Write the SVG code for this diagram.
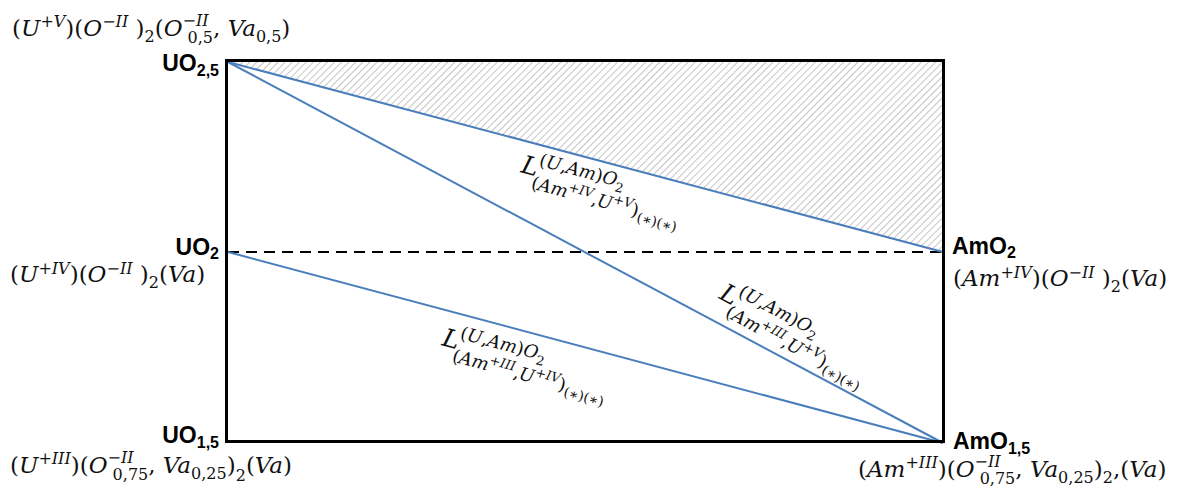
<svg xmlns="http://www.w3.org/2000/svg" width="1179" height="492" viewBox="0 0 1179 492">
<style>
.m{font-family:"DejaVu Serif","Liberation Serif",serif;font-size:23px;fill:#111}
.i{font-style:italic}
.s{font-size:16px}
.b{font-family:"Liberation Sans",Arial,sans-serif;font-weight:bold;font-size:23px;fill:#000}
.bs{font-size:16px}
.blue{stroke:#4a7ebb;stroke-width:2;fill:none}
.frame{stroke:#000;stroke-width:3;fill:none}
.dash{stroke:#000;stroke-width:2;stroke-dasharray:11 7;fill:none}
.Ls{font-family:"DejaVu Serif","Liberation Serif",serif;fill:#111}
</style>
<defs>
<pattern id="hatch" patternUnits="userSpaceOnUse" width="5" height="5" patternTransform="rotate(45)">
<line x1="0" y1="0" x2="0" y2="5" stroke="#8c8c8c" stroke-width="1"/>
</pattern>
</defs>
<rect width="1179" height="492" fill="#fff"/>
<g id="region">
<polygon points="228,62 943,62 943,252" fill="url(#hatch)"/>
</g>
<g id="connectors">
<line class="dash" x1="228" y1="252" x2="943" y2="252"/>
<line class="blue" x1="228" y1="62" x2="943" y2="252"/>
<line class="blue" x1="228" y1="62" x2="943" y2="443"/>
<line class="blue" x1="228" y1="252" x2="943" y2="443"/>
</g>
<g id="frame">
<rect class="frame" x="226.5" y="60.5" width="717" height="381"/>
</g>
<g id="UO25">
<text class="b" x="219" y="71" text-anchor="end">UO<tspan class="bs" dy="5">2,5</tspan></text>
<text class="m" x="12" y="36">(<tspan class="i">U</tspan><tspan class="s" dy="-9">+<tspan class="i">V</tspan></tspan><tspan dy="9">)(</tspan><tspan class="i">O</tspan><tspan class="s i" dy="-9">−II</tspan><tspan dy="9"> )</tspan><tspan class="s" dy="6">2</tspan><tspan dy="-6">(</tspan><tspan class="i">O</tspan><tspan class="s i" dy="-10">−II</tspan><tspan class="s" dx="-21" dy="17">0,5</tspan><tspan dy="-7">, </tspan><tspan class="i">Va</tspan><tspan class="s" dy="6">0,5</tspan><tspan dy="-6">)</tspan></text>
</g>
<g id="UO2">
<text class="b" x="219" y="255" text-anchor="end">UO<tspan class="bs" dy="4">2</tspan></text>
<text class="m" x="10" y="282">(<tspan class="i">U</tspan><tspan class="s i" dy="-8">+IV</tspan><tspan dy="8">)(</tspan><tspan class="i">O</tspan><tspan class="s i" dy="-8">−II</tspan><tspan dy="8"> )</tspan><tspan class="s" dy="6">2</tspan><tspan dy="-6">(</tspan><tspan class="i">Va</tspan>)</text>
</g>
<g id="UO15">
<text class="b" x="219" y="443" text-anchor="end">UO<tspan class="bs" dy="5">1,5</tspan></text>
<text class="m" x="10" y="473">(<tspan class="i">U</tspan><tspan class="s i" dy="-9">+III</tspan><tspan dy="9">)(</tspan><tspan class="i">O</tspan><tspan class="s i" dy="-10">−II</tspan><tspan class="s" dx="-21" dy="17">0,75</tspan><tspan dy="-7">, </tspan><tspan class="i">Va</tspan><tspan class="s" dy="6">0,25</tspan><tspan dy="-6">)</tspan><tspan class="s" dy="8">2</tspan><tspan dy="-8">(</tspan><tspan class="i">Va</tspan>)</text>
</g>
<g id="AmO2">
<text class="b" x="952" y="254">AmO<tspan class="bs" dy="4">2</tspan></text>
<text class="m" x="953" y="286">(<tspan class="i">Am</tspan><tspan class="s i" dy="-8">+IV</tspan><tspan dy="8">)(</tspan><tspan class="i">O</tspan><tspan class="s i" dy="-8">−II</tspan><tspan dy="8"> )</tspan><tspan class="s" dy="6">2</tspan><tspan dy="-6">(</tspan><tspan class="i">Va</tspan>)</text>
</g>
<g id="AmO15">
<text class="b" x="953" y="449">AmO<tspan class="bs" dy="5">1,5</tspan></text>
<text class="m" x="858" y="477">(<tspan class="i">Am</tspan><tspan class="s i" dy="-9">+III</tspan><tspan dy="9">)(</tspan><tspan class="i">O</tspan><tspan class="s i" dy="-10">−II</tspan><tspan class="s" dx="-21" dy="17">0,75</tspan><tspan dy="-7">, </tspan><tspan class="i">Va</tspan><tspan class="s" dy="6">0,25</tspan><tspan dy="-6">)</tspan><tspan class="s" dy="6">2</tspan><tspan dy="-6">,(</tspan><tspan class="i">Va</tspan>)</text>
</g>
<g id="label1" transform="translate(520,172) rotate(15)">
<text class="Ls i" x="0" y="0" font-size="25">L</text>
<text class="Ls" x="16" y="-11" font-size="18">(<tspan class="i">U</tspan>,<tspan class="i">Am</tspan>)<tspan class="i">O</tspan><tspan font-size="13" dy="5">2</tspan></text>
<text class="Ls" x="14" y="13" font-size="18">(<tspan class="i">Am</tspan><tspan font-size="13" dy="-7">+<tspan class="i">IV</tspan></tspan><tspan dy="7">,</tspan><tspan class="i">U</tspan><tspan font-size="13" dy="-7">+<tspan class="i">V</tspan></tspan><tspan dy="7">)</tspan><tspan font-size="14" dy="5">(∗)(∗)</tspan></text>
</g>
<g id="label2" transform="translate(718,298) rotate(28)">
<text class="Ls i" x="0" y="0" font-size="25">L</text>
<text class="Ls" x="16" y="-11" font-size="18">(<tspan class="i">U</tspan>,<tspan class="i">Am</tspan>)<tspan class="i">O</tspan><tspan font-size="13" dy="5">2</tspan></text>
<text class="Ls" x="14" y="13" font-size="18">(<tspan class="i">Am</tspan><tspan font-size="13" dy="-7">+<tspan class="i">III</tspan></tspan><tspan dy="7">,</tspan><tspan class="i">U</tspan><tspan font-size="13" dy="-7">+<tspan class="i">V</tspan></tspan><tspan dy="7">)</tspan><tspan font-size="14" dy="5">(∗)(∗)</tspan></text>
</g>
<g id="label3" transform="translate(441,345) rotate(15)">
<text class="Ls i" x="0" y="0" font-size="25">L</text>
<text class="Ls" x="16" y="-11" font-size="18">(<tspan class="i">U</tspan>,<tspan class="i">Am</tspan>)<tspan class="i">O</tspan><tspan font-size="13" dy="5">2</tspan></text>
<text class="Ls" x="14" y="13" font-size="18">(<tspan class="i">Am</tspan><tspan font-size="13" dy="-7">+<tspan class="i">III</tspan></tspan><tspan dy="7">,</tspan><tspan class="i">U</tspan><tspan font-size="13" dy="-7">+<tspan class="i">IV</tspan></tspan><tspan dy="7">)</tspan><tspan font-size="14" dy="5">(∗)(∗)</tspan></text>
</g>
</svg>
